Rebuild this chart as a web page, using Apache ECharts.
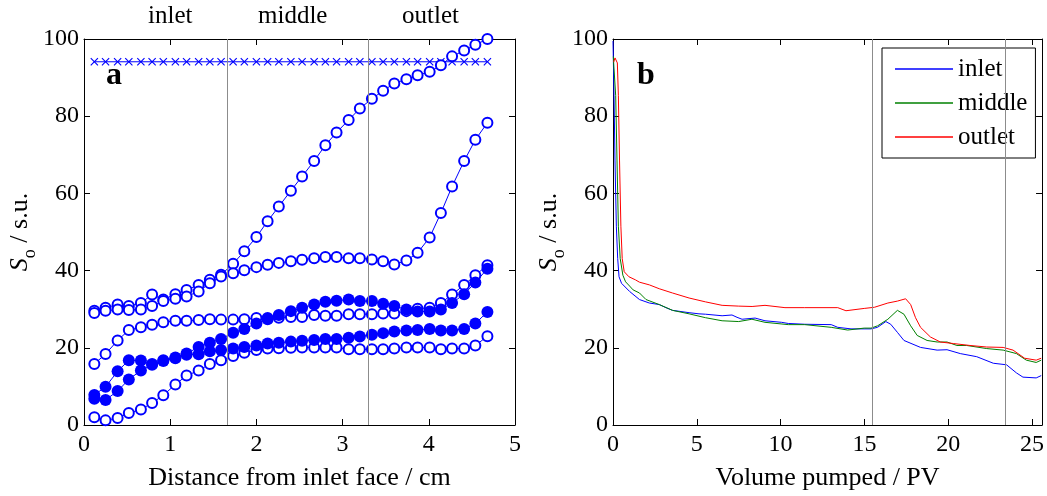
<!DOCTYPE html>
<html>
<head>
<meta charset="utf-8">
<script src="https://cdn.jsdelivr.net/npm/echarts@6/dist/echarts.min.js"></script>
<style>
  html, body { margin: 0; padding: 0; background: #fff; }
  #chart { width: 1047px; height: 496px; }
</style>
</head>
<body>
<div id="chart"></div>
<script>
// ---- Panel a: oil saturation profiles along the core ----
const distance = [0.12, 0.25, 0.39, 0.52, 0.66, 0.79, 0.92, 1.06, 1.19, 1.33, 1.46, 1.59, 1.73, 1.86, 2.00,
  2.13, 2.26, 2.40, 2.53, 2.67, 2.80, 2.93, 3.07, 3.20, 3.34, 3.47, 3.60, 3.74, 3.87, 4.01,
  4.14, 4.27, 4.41, 4.54, 4.68];

const profileInitial = [94.1, 94.1, 94.1, 94.1, 94.1, 94.1, 94.1, 94.1, 94.1, 94.1, 94.1, 94.1, 94.1, 94.1, 94.1,
  94.1, 94.1, 94.1, 94.1, 94.1, 94.1, 94.1, 94.1, 94.1, 94.1, 94.1, 94.1, 94.1, 94.1, 94.1,
  94.1, 94.1, 94.1, 94.1, 94.1];

const profileOpen1 = [29.6, 30.4, 31.2, 30.8, 31.6, 33.8, 32.5, 33.9, 35.0, 36.3, 37.6, 38.9, 41.8, 45.0, 48.7,
  52.8, 56.6, 60.7, 64.4, 68.4, 72.5, 75.8, 79.0, 82.0, 84.5, 86.6, 88.5, 89.6, 90.6, 91.5,
  93.2, 95.5, 97.0, 98.5, 100.0];

const profileOpen2 = [29.0, 29.6, 29.9, 29.8, 29.9, 30.8, 32.1, 32.7, 33.3, 34.6, 36.7, 38.5, 39.3, 40.1, 40.9,
  41.5, 42.0, 42.4, 42.8, 43.2, 43.5, 43.5, 43.2, 43.2, 42.9, 42.4, 41.6, 42.6, 44.6, 48.6,
  54.9, 61.8, 68.4, 73.9, 78.3];

const profileOpen3 = [15.8, 18.4, 21.9, 24.6, 25.3, 26.0, 26.6, 27.0, 27.0, 27.2, 27.4, 27.3, 27.3, 27.4, 27.7,
  27.7, 27.8, 28.0, 28.0, 28.5, 28.3, 28.3, 28.7, 28.7, 28.7, 28.9, 28.9, 29.5, 30.1, 30.4,
  31.6, 33.8, 36.3, 38.8, 41.4];

const profileOpen4 = [2.0, 1.2, 1.8, 3.1, 4.0, 5.7, 7.7, 10.5, 12.8, 14.1, 15.8, 16.8, 17.9, 18.7, 19.4,
  19.8, 19.9, 20.0, 20.1, 20.1, 20.1, 20.1, 19.6, 19.6, 19.6, 19.6, 19.8, 20.1, 20.1, 20.1,
  19.6, 19.8, 19.8, 20.6, 23.0];

const profileFilled1 = [7.8, 9.9, 13.9, 16.8, 16.7, 15.8, 16.8, 17.5, 18.5, 20.2, 21.3, 22.3, 23.9, 24.9, 26.3,
  27.4, 28.5, 29.5, 30.4, 31.2, 31.9, 32.2, 32.5, 32.1, 32.1, 31.4, 30.8, 29.9, 29.4, 29.4,
  29.9, 31.6, 33.9, 36.9, 40.5];

const profileFilled2 = [6.8, 6.5, 8.8, 11.8, 14.1, 15.6, 16.6, 17.3, 18.2, 18.3, 19.1, 19.4, 19.8, 20.2, 20.6,
  21.1, 21.3, 21.6, 21.8, 22.0, 22.3, 22.3, 22.6, 22.9, 23.4, 23.8, 24.2, 24.5, 24.6, 24.9,
  24.5, 24.5, 24.9, 26.3, 29.3];

const sectionBounds = [1.66, 3.30];
const sectionNames = ['inlet', 'middle', 'outlet'];

// ---- Panel b: saturation of each section versus volume pumped [PV, s.u.] ----
const inletSeries = [[0, 99.5], [0.06, 85.4], [0.12, 68.4], [0.2, 51.5], [0.28, 43.1], [0.36, 38.4], [0.51, 36.7],
  [0.6, 36.2], [0.99, 34.6], [1.58, 32.5], [2.17, 31.6], [2.76, 31.2], [3.16, 30.4], [3.55, 29.7], [4.54, 29.1],
  [5.13, 28.8], [5.52, 28.7], [6.51, 28.3], [7.1, 28.5], [7.4, 27.9], [7.7, 27.4], [8.48, 27.7], [9.07, 27.0],
  [10.06, 26.6], [10.46, 26.3], [11.44, 26.1], [13.02, 26.0], [13.41, 25.3], [14.2, 24.9], [15.39, 24.9],
  [15.78, 25.3], [16.28, 26.8], [16.57, 26.1], [16.97, 24.0], [17.36, 21.9], [18.35, 20.1], [19.34, 19.4],
  [19.93, 19.5], [20.72, 18.5], [21.7, 17.7], [22.69, 16.0], [23.48, 15.6], [24.07, 13.5], [24.46, 12.4],
  [25.25, 12.2], [25.55, 12.8]];

const middleSeries = [[0.02, 95.5], [0.05, 93.0], [0.16, 85.4], [0.24, 68.4], [0.32, 51.5], [0.43, 43.1],
  [0.59, 38.8], [0.75, 37.1], [0.99, 36.0], [1.2, 35.0], [1.58, 34.2], [1.97, 32.5], [2.76, 31.2], [3.55, 29.7],
  [4.54, 28.8], [5.52, 27.8], [6.51, 27.0], [7.5, 26.8], [8.29, 27.4], [9.07, 26.6], [10.46, 26.0], [11.44, 26.0],
  [13.02, 25.3], [14.0, 24.6], [14.99, 25.1], [15.4, 25.1], [15.79, 25.7], [16.4, 27.4], [16.97, 29.7],
  [17.36, 28.7], [17.76, 25.7], [18.15, 23.2], [18.74, 21.9], [19.34, 21.5], [19.93, 21.5], [20.52, 20.6],
  [21.1, 20.6], [22.3, 19.8], [23.28, 19.4], [24.07, 18.5], [24.66, 16.8], [25.25, 16.2], [25.55, 16.8]];

const outletSeries = [[0.04, 94.0], [0.12, 95.1], [0.26, 93.8], [0.32, 85.4], [0.39, 68.4], [0.47, 51.5],
  [0.55, 43.1], [0.67, 39.7], [0.95, 38.4], [1.34, 37.6], [1.58, 37.0], [2.17, 36.3], [2.76, 35.3], [3.55, 34.2],
  [4.54, 32.9], [5.52, 31.9], [6.51, 31.0], [7.5, 30.8], [8.3, 30.7], [9.07, 31.0], [10.26, 30.4], [11.44, 30.4],
  [13.41, 30.4], [13.9, 29.6], [14.99, 30.2], [15.6, 30.5], [16.4, 31.6], [16.97, 32.1], [17.46, 32.7],
  [17.76, 31.2], [18.05, 27.8], [18.35, 25.3], [18.94, 22.8], [19.53, 21.5], [20.32, 21.1], [21.3, 20.6],
  [22.3, 20.2], [23.28, 20.1], [23.87, 19.4], [24.56, 17.3], [25.25, 16.8], [25.55, 17.3]];

const pumpedBounds = [15.45, 23.4];

// ---- styling ----
const FONT = '"Liberation Serif", "Times New Roman", serif';
const BLUE = '#0000ff';
const GREEN = '#008000';
const RED = '#ff0000';
const TICK_SIZE = 24;

const chart = echarts.init(document.getElementById('chart'), null, { renderer: 'canvas' });

function makeAxis(gridIndex, position, min, max, interval, withLabels, extra, hideMaxLabel) {
  return Object.assign({
    type: 'value', gridIndex, position, min, max, interval,
    axisLine: { show: true, onZero: false, lineStyle: { color: '#000', width: 1 } },
    axisTick: { show: true, inside: true, length: 6, lineStyle: { color: '#000' } },
    splitLine: { show: false },
    axisLabel: {
      show: withLabels, color: '#000', fontFamily: FONT, fontSize: TICK_SIZE,
      margin: position === 'bottom' ? 8 : 5, showMaxLabel: !hideMaxLabel
    }
  }, extra || {});
}

const yName = '{s|S}{o|o}{n| / s.u.}';
const yRich = {
  s: { fontFamily: FONT, fontSize: 26, fontStyle: 'italic', color: '#000', verticalAlign: 'top', lineHeight: 32 },
  o: { fontFamily: FONT, fontSize: 18, color: '#000', verticalAlign: 'bottom', lineHeight: 32 },
  n: { fontFamily: FONT, fontSize: 26, color: '#000', verticalAlign: 'top', lineHeight: 32 }
};
const nameStyle = { fontFamily: FONT, fontSize: 26, color: '#000' };

function xy(xs, ys) { return xs.map((x, i) => [x, ys[i]]); }

const crossPath = 'path://M0,1L1,0L5,4L9,0L10,1L6,5L10,9L9,10L5,6L1,10L0,9L4,5Z';

function profile(name, ys, filled) {
  return {
    name, type: 'line', xAxisIndex: 0, yAxisIndex: 0,
    data: xy(distance, ys),
    symbol: filled ? 'circle' : 'emptyCircle',
    symbolSize: filled ? 12 : 10,
    lineStyle: { color: BLUE, width: 1 },
    itemStyle: filled ? { color: BLUE, borderWidth: 0 } : { color: BLUE, borderColor: BLUE, borderWidth: 1 },
    z: filled ? 4 : 3
  };
}

function pumped(name, data, color) {
  return {
    name, type: 'line', xAxisIndex: 2, yAxisIndex: 2, data,
    showSymbol: false, symbol: 'none',
    lineStyle: { color, width: 1 }, itemStyle: { color }, z: 3
  };
}

const vline = {
  silent: true, symbol: ['none', 'none'], label: { show: false },
  lineStyle: { color: '#8c8c8c', width: 1, type: 'solid' }, animation: false
};

const option = {
  animation: false,
  backgroundColor: '#fff',
  grid: [
    { left: 84, top: 39, width: 431, height: 394 },
    { left: 613, top: 39, width: 433, height: 394 }
  ],
  xAxis: [
    makeAxis(0, 'bottom', 0, 5, 1, true, {
      name: 'Distance from inlet face / cm', nameLocation: 'middle', nameGap: 40, nameTextStyle: nameStyle
    }),
    makeAxis(0, 'top', 0, 5, 1, false),
    makeAxis(1, 'bottom', 0, 25.6, 5, true, {
      name: 'Volume pumped / PV', nameLocation: 'middle', nameGap: 40, nameTextStyle: nameStyle
    }, true),
    makeAxis(1, 'top', 0, 25.6, 5, false)
  ],
  yAxis: [
    makeAxis(0, 'left', 0, 100, 20, true, {
      name: yName, nameLocation: 'middle', nameGap: 44, nameRotate: 90,
      nameTextStyle: { rich: yRich }
    }),
    makeAxis(0, 'right', 0, 100, 20, false),
    makeAxis(1, 'left', 0, 100, 20, true, {
      name: yName, nameLocation: 'middle', nameGap: 44, nameRotate: 90,
      nameTextStyle: { rich: yRich }
    }),
    makeAxis(1, 'right', 0, 100, 20, false)
  ],
  legend: {
    data: ['inlet', 'middle', 'outlet'],
    orient: 'vertical', left: 882, top: 48,
    padding: [7, 8, 7, 13], itemGap: 6, itemWidth: 58, itemHeight: 1.5,
    icon: 'rect', itemTextGap: 4,
    borderColor: '#000', borderWidth: 1, backgroundColor: '#fff',
    textStyle: { fontFamily: FONT, fontSize: 25, color: '#000', lineHeight: 28 }
  },
  series: [
    Object.assign(profile('initial', profileInitial, false), {
      symbol: crossPath, symbolSize: 8, itemStyle: { color: BLUE, borderWidth: 0 },
      markLine: Object.assign({}, vline, { data: sectionBounds.map(v => ({ xAxis: v })) })
    }),
    profile('profile 1', profileOpen1, false),
    profile('profile 2', profileOpen2, false),
    profile('profile 3', profileOpen3, false),
    profile('profile 4', profileOpen4, false),
    profile('profile 5', profileFilled1, true),
    profile('profile 6', profileFilled2, true),
    Object.assign(pumped('inlet', inletSeries, BLUE), {
      markLine: Object.assign({}, vline, { data: pumpedBounds.map(v => ({ xAxis: v })) })
    }),
    pumped('middle', middleSeries, GREEN),
    pumped('outlet', outletSeries, RED)
  ],
  graphic: [
    { type: 'text', left: 148, top: 4, style: { text: sectionNames[0], font: '25px ' + FONT, fill: '#000' } },
    { type: 'text', left: 258, top: 4, style: { text: sectionNames[1], font: '25px ' + FONT, fill: '#000' } },
    { type: 'text', left: 402, top: 4, style: { text: sectionNames[2], font: '25px ' + FONT, fill: '#000' } },
    { type: 'text', left: 106, top: 60, style: { text: 'a', font: 'bold 32px ' + FONT, fill: '#000' } },
    { type: 'text', left: 637, top: 60, style: { text: 'b', font: 'bold 32px ' + FONT, fill: '#000' } }
  ]
};

chart.setOption(option);
</script>
</body>
</html>
